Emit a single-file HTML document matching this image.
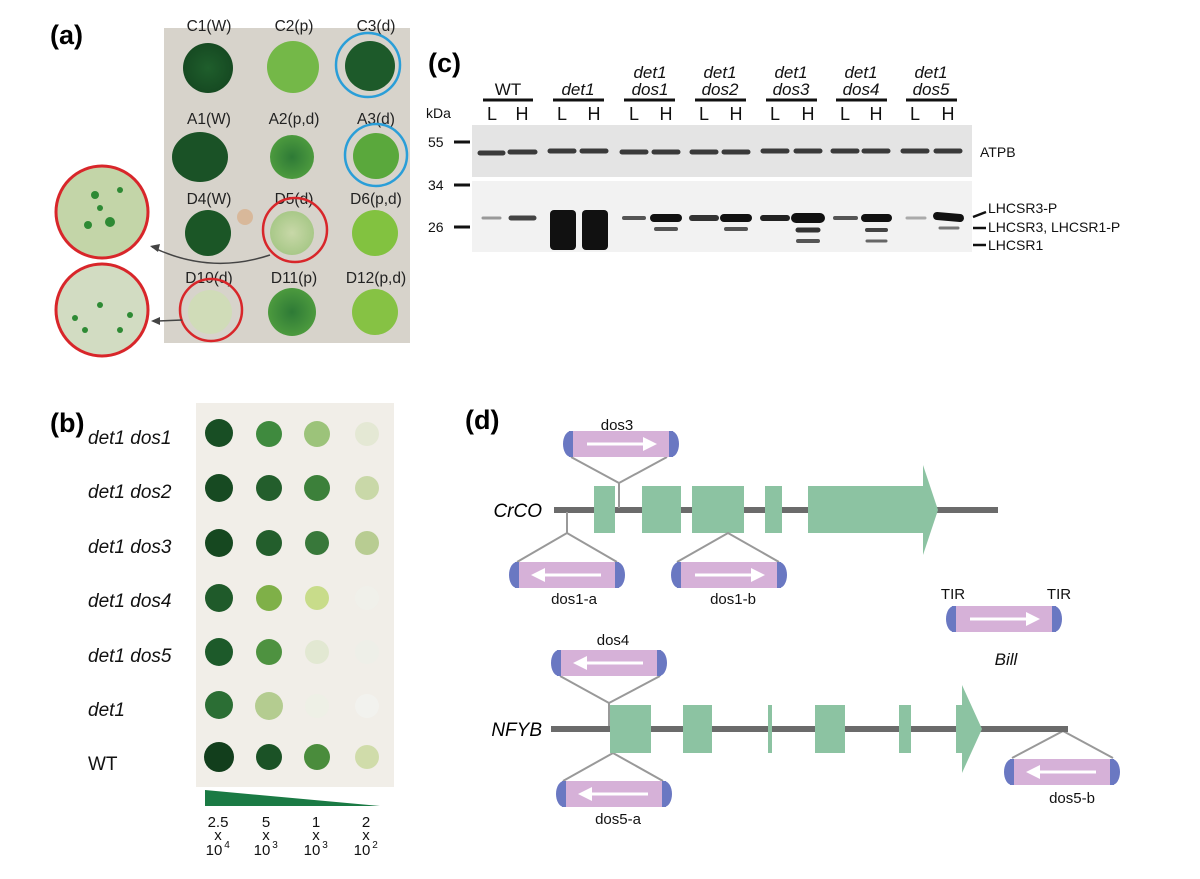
<!DOCTYPE html>
<html><head><meta charset="utf-8"><style>
html,body{margin:0;padding:0;background:#fff;}
svg{display:block;font-family:"Liberation Sans",Arial,sans-serif;}
</style></head><body>
<svg width="1200" height="879" viewBox="0 0 1200 879" xmlns="http://www.w3.org/2000/svg">
<defs>
<radialGradient id="gd"><stop offset="0" stop-color="#1f5e2c"/><stop offset="1" stop-color="#164a22"/></radialGradient>
<radialGradient id="gm"><stop offset="0" stop-color="#2e7a36"/><stop offset="1" stop-color="#4c9a3e"/></radialGradient>
<radialGradient id="gs"><stop offset="0" stop-color="#c8d8a8"/><stop offset="1" stop-color="#a8c888"/></radialGradient>
<g id="capR">
<rect x="-50" y="-13" width="100" height="26" fill="#d6b1d8"/>
<path d="M-50,-13 A8,13 0 0 0 -50,13 Z" fill="#6a78c2"/>
<path d="M50,-13 A8,13 0 0 1 50,13 Z" fill="#6a78c2"/>
<rect x="-52" y="-13" width="4" height="26" fill="#6a78c2"/>
<rect x="48" y="-13" width="4" height="26" fill="#6a78c2"/>
<line x1="-34" y1="0" x2="26" y2="0" stroke="#fff" stroke-width="3"/>
<polygon points="36,0 22,-7 22,7" fill="#fff"/>
</g>
<g id="capL"><use href="#capR" transform="scale(-1,1)"/></g>
</defs>

<!-- Panel a -->
<text x="50" y="44" font-size="27" font-weight="bold">(a)</text>
<rect x="164" y="28" width="246" height="315" fill="#d7d3cb"/>
<g font-size="15.5" fill="#222" text-anchor="middle">
<text x="209" y="31">C1(W)</text><text x="294" y="31">C2(p)</text><text x="376" y="31">C3(d)</text>
<text x="209" y="124">A1(W)</text><text x="294" y="124">A2(p,d)</text><text x="376" y="124">A3(d)</text>
<text x="209" y="204">D4(W)</text><text x="294" y="204">D5(d)</text><text x="376" y="204">D6(p,d)</text>
<text x="209" y="283">D10(d)</text><text x="294" y="283">D11(p)</text><text x="376" y="283">D12(p,d)</text>
</g>
<circle cx="208" cy="68" r="25" fill="url(#gd)"/>
<circle cx="293" cy="67" r="26" fill="#74b848"/>
<circle cx="370" cy="66" r="25" fill="#1d5a2a"/>
<circle cx="368" cy="65" r="32" fill="none" stroke="#2a9ed8" stroke-width="2.5"/>
<ellipse cx="200" cy="157" rx="28" ry="25" fill="#1a5226"/>
<circle cx="292" cy="157" r="22" fill="url(#gm)"/>
<circle cx="376" cy="156" r="23" fill="#5aa83c"/>
<circle cx="376" cy="155" r="31" fill="none" stroke="#2a9ed8" stroke-width="2.5"/>
<circle cx="208" cy="233" r="23" fill="#1b5626"/>
<circle cx="245" cy="217" r="8" fill="#d8b89a"/>
<circle cx="292" cy="233" r="22" fill="url(#gs)"/>
<circle cx="295" cy="230" r="32" fill="none" stroke="#d8262a" stroke-width="2.5"/>
<circle cx="375" cy="233" r="23" fill="#82c240"/>
<circle cx="210" cy="312" r="22" fill="#d0dcb8"/>
<circle cx="211" cy="310" r="31" fill="none" stroke="#d8262a" stroke-width="2.5"/>
<circle cx="292" cy="312" r="24" fill="url(#gm)"/>
<circle cx="375" cy="312" r="23" fill="#86c244"/>
<circle cx="102" cy="212" r="46" fill="#c3d5a8" stroke="#d8262a" stroke-width="3"/>
<circle cx="102" cy="310" r="46" fill="#d2dcc2" stroke="#d8262a" stroke-width="3"/>
<g fill="#2e8a34"><circle cx="95" cy="195" r="4"/><circle cx="110" cy="222" r="5"/><circle cx="120" cy="190" r="3"/><circle cx="88" cy="225" r="4"/><circle cx="100" cy="208" r="3"/>
<circle cx="75" cy="318" r="3"/><circle cx="85" cy="330" r="3"/><circle cx="120" cy="330" r="3"/><circle cx="100" cy="305" r="3"/><circle cx="130" cy="315" r="3"/></g>
<path d="M270,255 Q210,275 152,247" fill="none" stroke="#444" stroke-width="1.5"/>
<polygon points="150,246 160,244 158,252" fill="#444"/>
<line x1="182" y1="320" x2="158" y2="321" stroke="#444" stroke-width="1.5"/>
<polygon points="151,321 160,317 160,325" fill="#444"/>

<!-- Panel c -->
<text x="428" y="72" font-size="27" font-weight="bold">(c)</text>
<g font-size="17" text-anchor="middle" fill="#111">
<text x="508" y="95">WT</text>
<text x="578" y="95" font-style="italic">det1</text>
<g font-style="italic">
<text x="650" y="78">det1</text><text x="650" y="95">dos1</text>
<text x="720" y="78">det1</text><text x="720" y="95">dos2</text>
<text x="791" y="78">det1</text><text x="791" y="95">dos3</text>
<text x="861" y="78">det1</text><text x="861" y="95">dos4</text>
<text x="931" y="78">det1</text><text x="931" y="95">dos5</text>
</g>
<g font-size="18">
<text x="492" y="120">L</text><text x="522" y="120">H</text>
<text x="562" y="120">L</text><text x="594" y="120">H</text>
<text x="634" y="120">L</text><text x="666" y="120">H</text>
<text x="704" y="120">L</text><text x="736" y="120">H</text>
<text x="775" y="120">L</text><text x="808" y="120">H</text>
<text x="845" y="120">L</text><text x="876" y="120">H</text>
<text x="915" y="120">L</text><text x="948" y="120">H</text>
</g>
</g>
<g stroke="#111" stroke-width="3">
<line x1="483" y1="100" x2="533" y2="100"/><line x1="553" y1="100" x2="604" y2="100"/>
<line x1="624" y1="100" x2="675" y2="100"/><line x1="695" y1="100" x2="746" y2="100"/>
<line x1="766" y1="100" x2="817" y2="100"/><line x1="836" y1="100" x2="887" y2="100"/>
<line x1="906" y1="100" x2="957" y2="100"/>
<line x1="454" y1="142" x2="470" y2="142"/><line x1="454" y1="185" x2="470" y2="185"/><line x1="454" y1="227" x2="470" y2="227"/>
</g>
<g font-size="14" fill="#111"><text x="426" y="118">kDa</text><text x="428" y="147">55</text><text x="428" y="190">34</text><text x="428" y="232">26</text></g>
<rect x="472" y="125" width="500" height="52" fill="#e4e4e4"/>
<rect x="472" y="181" width="500" height="71" fill="#f2f2f2"/>
<g stroke="#3a3a3a" stroke-width="5" stroke-linecap="round">
<line x1="480" y1="153" x2="503" y2="153"/><line x1="510" y1="152" x2="535" y2="152"/>
<line x1="550" y1="151" x2="574" y2="151"/><line x1="582" y1="151" x2="606" y2="151"/>
<line x1="622" y1="152" x2="646" y2="152"/><line x1="654" y1="152" x2="678" y2="152"/>
<line x1="692" y1="152" x2="716" y2="152"/><line x1="724" y1="152" x2="748" y2="152"/>
<line x1="763" y1="151" x2="787" y2="151"/><line x1="796" y1="151" x2="820" y2="151"/>
<line x1="833" y1="151" x2="857" y2="151"/><line x1="864" y1="151" x2="888" y2="151"/>
<line x1="903" y1="151" x2="927" y2="151"/><line x1="936" y1="151" x2="960" y2="151"/>
</g>
<g stroke-linecap="round">
<line x1="483" y1="218" x2="500" y2="218" stroke="#999" stroke-width="3"/>
<line x1="511" y1="218" x2="534" y2="218" stroke="#444" stroke-width="5"/>
<rect x="550" y="210" width="26" height="40" fill="#111" rx="4"/>
<rect x="582" y="210" width="26" height="40" fill="#111" rx="4"/>
<line x1="624" y1="218" x2="644" y2="218" stroke="#555" stroke-width="4"/>
<line x1="654" y1="218" x2="678" y2="218" stroke="#111" stroke-width="8"/>
<line x1="656" y1="229" x2="676" y2="229" stroke="#555" stroke-width="4"/>
<line x1="692" y1="218" x2="716" y2="218" stroke="#333" stroke-width="6"/>
<line x1="724" y1="218" x2="748" y2="218" stroke="#111" stroke-width="8"/>
<line x1="726" y1="229" x2="746" y2="229" stroke="#555" stroke-width="4"/>
<line x1="763" y1="218" x2="787" y2="218" stroke="#222" stroke-width="6"/>
<line x1="796" y1="218" x2="820" y2="218" stroke="#111" stroke-width="10"/>
<line x1="798" y1="230" x2="818" y2="230" stroke="#333" stroke-width="5"/>
<line x1="798" y1="241" x2="818" y2="241" stroke="#555" stroke-width="4"/>
<line x1="835" y1="218" x2="856" y2="218" stroke="#555" stroke-width="4"/>
<line x1="865" y1="218" x2="888" y2="218" stroke="#111" stroke-width="8"/>
<line x1="867" y1="230" x2="886" y2="230" stroke="#444" stroke-width="4"/>
<line x1="867" y1="241" x2="886" y2="241" stroke="#666" stroke-width="3"/>
<line x1="907" y1="218" x2="925" y2="218" stroke="#aaa" stroke-width="3"/>
<line x1="937" y1="216" x2="960" y2="218" stroke="#111" stroke-width="8"/>
<line x1="940" y1="228" x2="958" y2="228" stroke="#777" stroke-width="3"/>
</g>
<g font-size="14" fill="#111"><text x="980" y="157">ATPB</text>
<text x="988" y="213">LHCSR3-P</text><text x="988" y="232">LHCSR3, LHCSR1-P</text><text x="988" y="250">LHCSR1</text></g>
<g stroke="#111" stroke-width="2.5"><line x1="973" y1="217" x2="986" y2="212"/><line x1="973" y1="228" x2="986" y2="228"/><line x1="973" y1="245" x2="986" y2="245"/></g>

<!-- Panel b -->
<text x="50" y="432" font-size="27" font-weight="bold">(b)</text>
<rect x="196" y="403" width="198" height="384" fill="#f1eee8"/>
<g font-size="19" font-style="italic" fill="#111">
<text x="88" y="444">det1 dos1</text><text x="88" y="498">det1 dos2</text><text x="88" y="553">det1 dos3</text>
<text x="88" y="607">det1 dos4</text><text x="88" y="662">det1 dos5</text><text x="88" y="716">det1</text>
<text x="88" y="770" font-style="normal">WT</text></g>
<g>
<circle cx="219" cy="433" r="14" fill="#184e24"/><circle cx="269" cy="434" r="13" fill="#3f8a3e"/><circle cx="317" cy="434" r="13" fill="#9cc37a"/><circle cx="367" cy="434" r="12" fill="#e4e8d4"/>
<circle cx="219" cy="488" r="14" fill="#174a22"/><circle cx="269" cy="488" r="13" fill="#235e2c"/><circle cx="317" cy="488" r="13" fill="#3c803a"/><circle cx="367" cy="488" r="12" fill="#c9d8a8"/>
<circle cx="219" cy="543" r="14" fill="#164820"/><circle cx="269" cy="543" r="13" fill="#235e2c"/><circle cx="317" cy="543" r="12" fill="#38783a"/><circle cx="367" cy="543" r="12" fill="#b8cc92"/>
<circle cx="219" cy="598" r="14" fill="#1f5a2a"/><circle cx="269" cy="598" r="13" fill="#7fb048"/><circle cx="317" cy="598" r="12" fill="#c8dc8a"/><circle cx="367" cy="598" r="12" fill="#f0f0ea"/>
<circle cx="219" cy="652" r="14" fill="#1d5a2a"/><circle cx="269" cy="652" r="13" fill="#4e9240"/><circle cx="317" cy="652" r="12" fill="#e2e8d2"/><circle cx="367" cy="652" r="12" fill="#eeefe8"/>
<circle cx="219" cy="705" r="14" fill="#2b6e34"/><circle cx="269" cy="706" r="14" fill="#b4cc90"/><circle cx="317" cy="706" r="12" fill="#eef0e6"/><circle cx="367" cy="706" r="12" fill="#f2f2ee"/>
<circle cx="219" cy="757" r="15" fill="#123e1c"/><circle cx="269" cy="757" r="13" fill="#1b5226"/><circle cx="317" cy="757" r="13" fill="#4a8c3c"/><circle cx="367" cy="757" r="12" fill="#d0dcaa"/>
</g>
<polygon points="205,790 380,806 205,806" fill="#1a7a44"/>
<g font-size="15" text-anchor="middle" fill="#111">
<text x="218" y="827">2.5</text><text x="266" y="827">5</text><text x="316" y="827">1</text><text x="366" y="827">2</text>
<text x="218" y="840">x</text><text x="266" y="840">x</text><text x="316" y="840">x</text><text x="366" y="840">x</text>
<text x="214" y="855">10</text><text x="262" y="855">10</text><text x="312" y="855">10</text><text x="362" y="855">10</text>
<g font-size="10"><text x="227" y="848">4</text><text x="275" y="848">3</text><text x="325" y="848">3</text><text x="375" y="848">2</text></g>
</g>

<!-- Panel d -->
<text x="465" y="429" font-size="27" font-weight="bold">(d)</text>
<line x1="554" y1="510" x2="998" y2="510" stroke="#6b6b6b" stroke-width="6"/>
<g fill="#8cc3a2">
<rect x="594" y="486" width="21" height="47"/><rect x="642" y="486" width="39" height="47"/>
<rect x="692" y="486" width="52" height="47"/><rect x="765" y="486" width="17" height="47"/>
<polygon points="808,486 923,486 923,465 938,510 923,555 923,533 808,533"/>
</g>
<text x="542" y="517" font-size="19" font-style="italic" text-anchor="end">CrCO</text>
<g fill="none" stroke="#999" stroke-width="2">
<polyline points="571,457 619,483 667,457"/><line x1="619" y1="483" x2="619" y2="508"/>
<line x1="567" y1="512" x2="567" y2="533"/><polyline points="517,562 567,533 617,562"/>
<polyline points="677,562 728,533 779,562"/>
<polyline points="560,676 609,703 660,676"/><line x1="609" y1="703" x2="609" y2="727"/>
<polyline points="563,781 613,753 663,781"/>
<polyline points="1012,758 1063,731 1113,758"/>
</g>
<use href="#capR" x="621" y="444"/>
<use href="#capL" x="567" y="575"/>
<use href="#capR" x="729" y="575"/>
<use href="#capR" x="1004" y="619"/>
<use href="#capL" x="609" y="663"/>
<use href="#capL" x="614" y="794"/>
<use href="#capL" x="1062" y="772"/>
<g font-size="15" fill="#111" text-anchor="middle">
<text x="617" y="430">dos3</text><text x="574" y="604">dos1-a</text><text x="733" y="604">dos1-b</text>
<text x="953" y="599">TIR</text><text x="1059" y="599">TIR</text>
<text x="1006" y="665" font-size="17" font-style="italic">Bill</text>
<text x="613" y="645">dos4</text><text x="618" y="824">dos5-a</text><text x="1072" y="803">dos5-b</text>
</g>
<line x1="551" y1="729" x2="1068" y2="729" stroke="#6b6b6b" stroke-width="6"/>
<g fill="#8cc3a2">
<rect x="610" y="705" width="41" height="48"/><rect x="683" y="705" width="29" height="48"/>
<rect x="768" y="705" width="4" height="48"/><rect x="815" y="705" width="30" height="48"/>
<rect x="899" y="705" width="12" height="48"/>
<polygon points="956,705 962,705 962,685 982,729 962,773 962,753 956,753"/>
</g>
<text x="542" y="736" font-size="19" font-style="italic" text-anchor="end">NFYB</text>
</svg>
</body></html>
